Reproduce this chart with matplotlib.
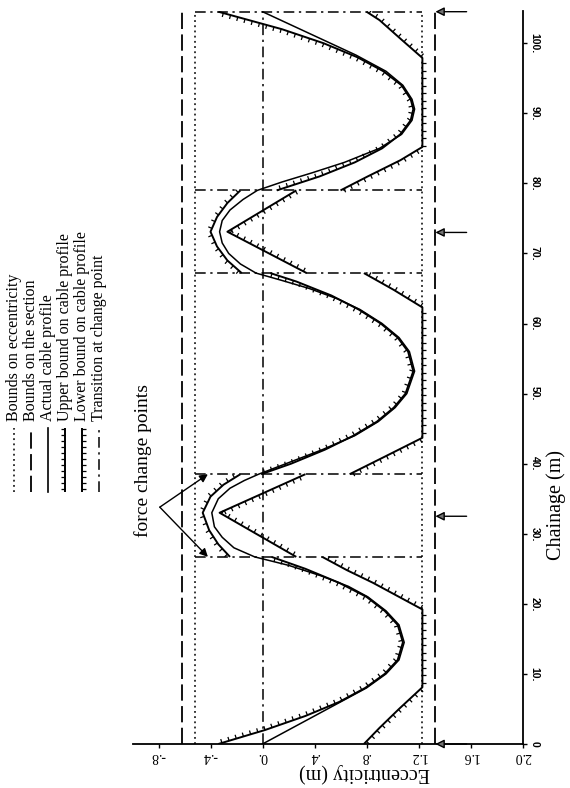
import numpy as np
import matplotlib
matplotlib.use("Agg")
import matplotlib.pyplot as plt
from matplotlib.collections import LineCollection

plt.rcParams['font.family'] = ['Liberation Serif', 'DejaVu Serif']

# ---------------- data ----------------
ecc_ticks = [-0.8, -0.4, 0.0, 0.4, 0.8, 1.2, 1.6, 2.0]
ecc_tick_labels = ["-.8", "-.4", "0.", ".4", ".8", "1.2", "1.6", "2.0"]
ch_ticks = [0, 10, 20, 30, 40, 50, 60, 70, 80, 90, 100]
ch_tick_labels = ["0", "10.", "20.", "30.", "40.", "50.", "60.", "70.", "80.", "90.", "100."]

ecc_bounds = [-0.52, 1.23]          # bounds on eccentricity
section_bounds = [-0.62, 1.33]      # bounds on the section
transition_ch = [26.7, 38.5, 67.2, 79.0, 104.5]
force_change_ch = [0.0, 32.5, 73.0, 104.5]
ch_end = 104.5

# actual cable profile
cable_ch = [0, 7.1, 8, 10, 12, 14.5, 17, 19, 21, 22.5, 24, 25.5, 26.7,
            28, 29.5, 31, 33, 35, 36.5, 37.6, 38.5,
            40, 42, 44, 46, 48, 50, 53.2, 56, 58, 60, 62, 63.5, 65, 66.2, 67.2,
            68.5, 70, 71.5, 73.1, 74.7, 76.2, 77.7, 79.0,
            80.2, 81.5, 83, 85, 87, 89, 90.6, 92, 94, 96, 98.3, 104.5]
cable_ecc = [0.0, 0.71, 0.80, 0.95, 1.05, 1.09, 1.05, 0.95, 0.81, 0.66, 0.45, 0.20, -0.06,
             -0.22, -0.31, -0.37, -0.39, -0.34, -0.25, -0.14, -0.03,
             0.18, 0.46, 0.71, 0.89, 1.02, 1.11, 1.17, 1.13, 1.05, 0.92, 0.75, 0.58, 0.36, 0.14, -0.05,
             -0.17, -0.26, -0.31, -0.33, -0.31, -0.25, -0.15, -0.04,
             0.15, 0.38, 0.63, 0.90, 1.07, 1.15, 1.17, 1.15, 1.08, 0.95, 0.72, 0.0]

# upper bound on cable profile (minimum eccentricity), one list per zone
upper_ch = [
    [0, 2, 4, 6, 8, 10, 12, 14.5, 17, 19, 21, 23, 25, 26.7],
    [26.7, 28.5, 30.5, 33.0, 35.3, 37.0, 38.5],
    [38.5, 40, 42, 44, 46, 48, 50, 53.2, 56, 58, 60, 62, 64, 66, 67.2],
    [67.2, 69, 71, 73.1, 75.2, 77.2, 79.0],
    [79.0, 81, 83, 85, 87, 89, 90.6, 92, 94, 96, 98, 100, 102, 104.5],
]
upper_ecc = [
    [-0.34, 0.02, 0.33, 0.59, 0.79, 0.94, 1.04, 1.08, 1.04, 0.94, 0.80, 0.59, 0.33, 0.07],
    [-0.25, -0.34, -0.41, -0.46, -0.40, -0.30, -0.17],
    [-0.01, 0.22, 0.48, 0.70, 0.88, 1.01, 1.10, 1.16, 1.12, 1.04, 0.91, 0.74, 0.53, 0.26, 0.06],
    [-0.16, -0.27, -0.35, -0.40, -0.35, -0.27, -0.17],
    [0.11, 0.44, 0.71, 0.92, 1.06, 1.14, 1.16, 1.14, 1.07, 0.93, 0.73, 0.47, 0.15, -0.34],
]

# lower bound on cable profile (maximum eccentricity), one list per zone
lower_ch = [
    [0, 2.3, 5, 8.1, 19.2, 21, 23, 24.8, 26.7],
    [26.7, 33.0, 38.5],
    [38.5, 41, 43.7, 62.3, 64.8, 67.2],
    [67.2, 73.1, 79.0],
    [79.0, 81, 83.3, 85.2, 97.9, 100.5, 103.3, 104.5],
]
lower_ecc = [
    [0.78, 0.90, 1.05, 1.23, 1.23, 1.05, 0.85, 0.65, 0.46],
    [0.26, -0.33, 0.33],
    [0.67, 0.94, 1.23, 1.23, 1.01, 0.78],
    [0.34, -0.27, 0.26],
    [0.60, 0.81, 1.06, 1.23, 1.23, 1.07, 0.90, 0.80],
]

legend_labels = ["Bounds on eccentricity", "Bounds on the section", "Actual cable profile",
                 "Upper bound on cable profile", "Lower bound on cable profile",
                 "Transition at change point"]

# ---------------- styles ----------------
DOT = (0, (1.2, 2.2))
LDASH = (0, (9, 3))
DASHDOT = (0, (7, 3, 1.5, 3))
W, H = 570, 788


def ticked(axx, xs, ys, side, spacing=7.5, length=4.0, lw=1.4):
    """Draw a line with small perpendicular ticks on one side (side=-1 left, +1 right)."""
    axx.plot(xs, ys, color='k', lw=lw, solid_capstyle='butt', zorder=3)
    pts = axx.transData.transform(np.column_stack([xs, ys]))
    seg = np.diff(pts, axis=0)
    seglen = np.hypot(seg[:, 0], seg[:, 1])
    cum = np.concatenate([[0], np.cumsum(seglen)])
    segs = []
    inv = axx.transData.inverted()
    for s in np.arange(spacing / 2, cum[-1], spacing):
        i = int(np.clip(np.searchsorted(cum, s) - 1, 0, len(seg) - 1))
        if seglen[i] == 0:
            continue
        t = (s - cum[i]) / seglen[i]
        p = pts[i] + t * seg[i]
        d = seg[i] / seglen[i]
        n = np.array([-d[1], d[0]])
        if n[0] * side < 0:
            n = -n
        q = p + n * length
        segs.append(inv.transform(np.vstack([p, q])))
    axx.add_collection(LineCollection(segs, colors='k', linewidths=0.9, zorder=3))


fig = plt.figure(figsize=(W / 100, H / 100), dpi=100)
ax = fig.add_axes([132.5 / W, 1 - 744 / H, 390 / W, 733 / H])
ax.set_xlim(-1.0, 2.0)
ax.set_ylim(0, 104.6)
ax.patch.set_alpha(0)

for sp in ['left', 'top']:
    ax.spines[sp].set_visible(False)
for sp in ['bottom', 'right']:
    ax.spines[sp].set_linewidth(1.3)

ax.set_xticks(ecc_ticks)
ax.set_xticklabels(ecc_tick_labels, rotation=180, fontsize=10)
ax.tick_params(axis='x', direction='out', length=3, width=1, pad=1)
ax.yaxis.tick_right()
ax.set_yticks(ch_ticks)
ax.set_yticklabels(ch_tick_labels, rotation=-90, fontsize=7.5, fontweight='bold',
                   family=['Liberation Sans', 'DejaVu Sans'])
for lbl in ax.get_yticklabels():
    lbl.set_va('center')
ax.tick_params(axis='y', direction='out', length=3, width=1, pad=2)

# bounds
for e in section_bounds:
    ax.plot([e, e], [0, ch_end], ls=LDASH, lw=1.3, color='k')
for e in ecc_bounds:
    ax.plot([e, e], [0, ch_end], ls=DOT, lw=1.1, color='k')
ax.plot([0, 0], [0, ch_end], ls=DASHDOT, lw=1.1, color='k')
for c in transition_ch:
    ax.plot(ecc_bounds, [c, c], ls=DASHDOT, lw=1.1, color='k')

# bounds on cable profile
for cs, es in zip(upper_ch, upper_ecc):
    ticked(ax, es, cs, side=-1)
for cs, es in zip(lower_ch, lower_ecc):
    ticked(ax, es, cs, side=+1)

# cable
ax.plot(cable_ecc, cable_ch, color='k', lw=1.1, zorder=4)

# force change arrows on the right
for c in force_change_ch:
    ax.annotate('', xy=(section_bounds[1], c), xytext=(1.57, c),
                arrowprops=dict(arrowstyle='-|>', color='k', lw=1.0, fc='0.45',
                                mutation_scale=13, shrinkA=0, shrinkB=0),
                annotation_clip=False)

# force change points annotation
vertex = (-0.79, 33.8)
for c in (transition_ch[1], transition_ch[0]):
    ax.annotate('', xy=(-0.42, c), xytext=vertex,
                arrowprops=dict(arrowstyle='-|>', color='k', lw=1.0, fc='k',
                                mutation_scale=12, shrinkA=0, shrinkB=0))
ax.text(-0.92, 40.5, 'force change points', rotation=90, fontsize=14,
        ha='center', va='center')

# axis labels
fig.text(364 / W, 1 - 773 / H, 'Eccentricity (m)', rotation=180, fontsize=14.5,
         ha='center', va='center')
fig.text(556 / W, 1 - 505 / H, 'Chainage (m)', rotation=90, fontsize=14.5,
         ha='center', va='center')

# legend (rotated, drawn in pixel space)
lg = fig.add_axes([0, 0, 1, 1])
lg.set_xlim(0, W)
lg.set_ylim(H, 0)
lg.axis('off')
styles = ['dot', 'ldash', 'solid', 'upper', 'lower', 'dashdot']
for k, (lab, st) in enumerate(zip(legend_labels, styles)):
    x = 14 + 17 * k
    y0, y1 = 492, 428
    if st == 'dot':
        lg.plot([x, x], [y0, y1], ls=DOT, lw=1.1, color='k')
    elif st == 'ldash':
        lg.plot([x, x], [y0, y1], ls=LDASH, lw=1.3, color='k')
    elif st == 'solid':
        lg.plot([x, x], [y0, y1], lw=1.2, color='k')
    elif st == 'upper':
        ticked(lg, [x, x], [y0, y1], side=-1, spacing=6)
    elif st == 'lower':
        ticked(lg, [x, x], [y0, y1], side=+1, spacing=6)
    else:
        lg.plot([x, x], [y0, y1], ls=DASHDOT, lw=1.1, color='k')
    lg.text(x, 421, lab, rotation=90, fontsize=11.5, ha='center', va='bottom')

fig.savefig('out.png', dpi=100)
